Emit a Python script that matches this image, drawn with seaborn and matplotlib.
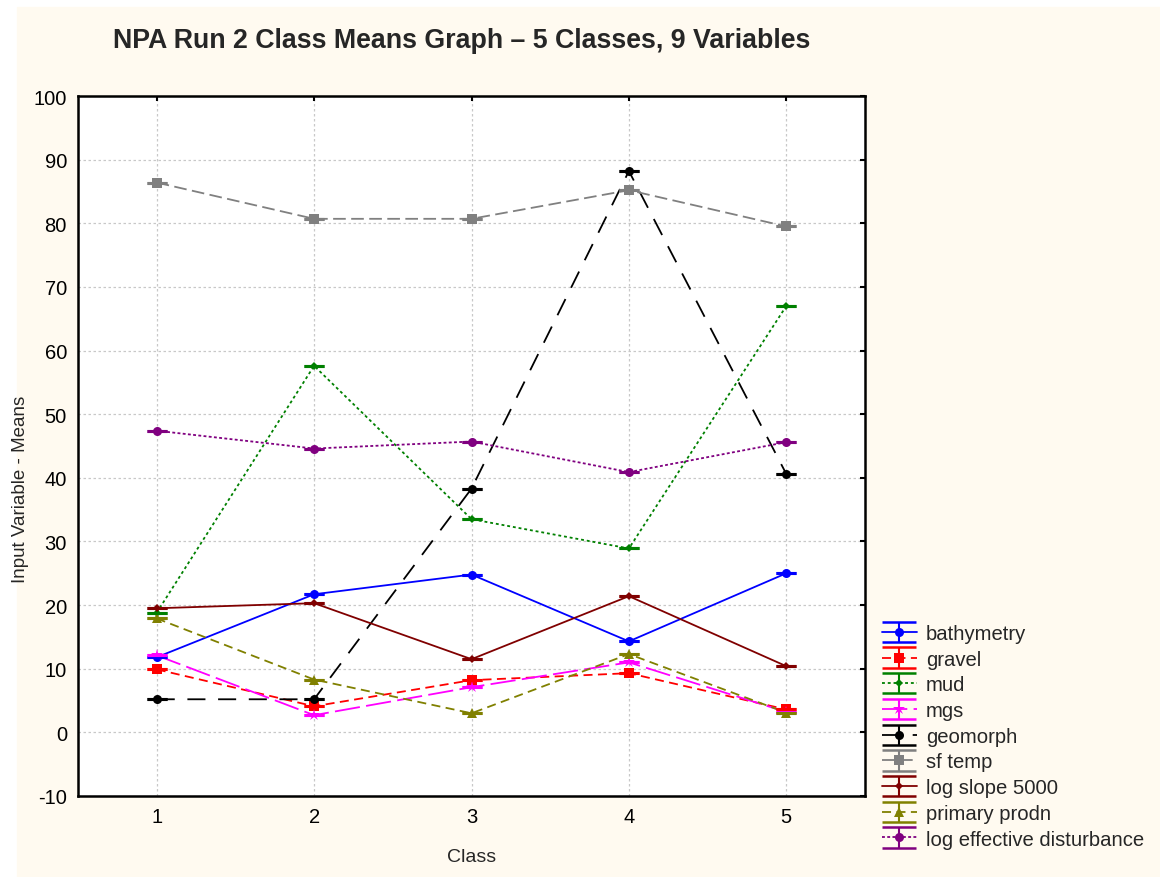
import numpy as np
import pandas as pd
import matplotlib
matplotlib.use("Agg")
import matplotlib.pyplot as plt
import seaborn as sns
from matplotlib.lines import Line2D
from matplotlib.patches import Rectangle
from matplotlib.legend_handler import HandlerTuple

# Datos
classes = [1, 2, 3, 4, 5]
variables = [
    "bathymetry",
    "gravel",
    "mud",
    "mgs",
    "geomorph",
    "sf temp",
    "log slope 5000",
    "primary prodn",
    "log effective disturbance",
]
bathymetry = [11.8, 21.7, 24.8, 14.3, 25.0]
gravel = [9.9, 4.1, 8.2, 9.3, 3.6]
mud = [18.8, 57.6, 33.5, 28.9, 67.0]
mgs = [12.1, 2.7, 7.1, 11.0, 3.2]
geomorph = [5.2, 5.2, 38.3, 88.2, 40.6]
sf_temp = [86.4, 80.7, 80.7, 85.2, 79.5]
log_slope = [19.5, 20.3, 11.5, 21.4, 10.4]
primary_prodn = [17.9, 8.3, 3.0, 12.3, 3.1]
log_disturbance = [47.4, 44.6, 45.7, 40.9, 45.6]

series = [bathymetry, gravel, mud, mgs, geomorph, sf_temp,
          log_slope, primary_prodn, log_disturbance]

colors = ["#0000FF", "#FF0000", "#008000", "#FF00FF", "#000000",
          "#808080", "#800000", "#808000", "#800080"]
markers = ["o", "s", "D", "*", "o", "s", "D", "^", "o"]
msizes = [6.5, 6.5, 4.5, 9, 6.5, 6.5, 4.5, 7.5, 6.5]
dash_styles = ["", (5, 3), (1.6, 1.6), (14, 3.5), (10, 7), (7, 3),
               "", (5, 3), (1.6, 1.3)]

df = pd.DataFrame({
    "Class": np.tile(classes, len(variables)),
    "value": np.concatenate(series),
    "variable": np.repeat(variables, len(classes)),
})

sns.set_style("whitegrid")
plt.rcParams["font.family"] = ["Liberation Sans", "DejaVu Sans"]
plt.rcParams["axes.unicode_minus"] = False

fig = plt.figure(figsize=(11.6, 8.78), dpi=100, facecolor="white")
fig.add_artist(Rectangle((17 / 1160, 0), 1, 1 - 8 / 878,
                         transform=fig.transFigure, color="#FFFAF0",
                         zorder=-5))
ax = fig.add_axes([78 / 1160, 1 - 797 / 878, 787 / 1160, 700 / 878])
ax.set_facecolor("white")

sns.lineplot(
    data=df, x="Class", y="value", hue="variable", style="variable",
    hue_order=variables, style_order=variables,
    palette=dict(zip(variables, colors)),
    markers=dict(zip(variables, markers)),
    dashes=dict(zip(variables, dash_styles)),
    markersize=7, markeredgewidth=0, linewidth=1.3,
    legend=False, ax=ax,
)

# tamaños de marcador por serie
for line, ms in zip(ax.lines, msizes):
    line.set_markersize(ms)

# "barras de error" con remates horizontales en cada punto
for vals, c in zip(series, colors):
    ax.errorbar(classes, vals, yerr=np.zeros(len(vals)), fmt="none",
                ecolor=c, capsize=7.5, capthick=2.2, elinewidth=1.3,
                zorder=3)

ax.set_xlim(0.5, 5.5)
ax.set_ylim(-10, 100)
ax.set_xticks(classes)
ax.set_yticks(np.arange(-10, 101, 10))
ax.grid(True, color="#C8C8C8", linestyle=(0, (2, 2)), linewidth=0.9)
for sp in ax.spines.values():
    sp.set_visible(True)
    sp.set_color("black")
    sp.set_linewidth(1.8)
ax.tick_params(axis="both", direction="in", length=3.5, width=1.5,
               colors="black", labelsize=14.5, top=True, right=True,
               labeltop=False, labelright=False, pad=8)

ax.set_xlabel("Class", fontsize=14, labelpad=16)
ax.set_ylabel("Input Variable - Means", fontsize=13.5)
ax.yaxis.set_label_coords(-0.062, 0.44)

fig.text(462 / 1160, 1 - 41 / 878,
         "NPA Run 2 Class Means Graph \u2013 5 Classes, 9 Variables",
         ha="center", va="center", fontsize=19.3, fontweight="bold")

# leyenda con linea + marcador + remates
handles = []
for v, c, m, ms, d in zip(variables, colors, markers, msizes, dash_styles):
    ln = Line2D([], [], color=c, marker=m, markersize=ms,
                markeredgewidth=0, linewidth=1.3)
    if d != "":
        ln.set_dashes(d)
    eb = ax.errorbar([np.nan], [np.nan], yerr=[0], fmt="none", ecolor=c,
                     capsize=12.5, capthick=1.8, elinewidth=1.5)
    handles.append((ln, eb))

fig.legend(
    handles, variables, loc="upper left",
    bbox_to_anchor=(882 / 1160, 1 - 625 / 878),
    frameon=False, fontsize=14.6, handlelength=1.72, handletextpad=0.45,
    labelspacing=0.33, borderpad=0, borderaxespad=0,
    handler_map={tuple: HandlerTuple(ndivide=1, pad=0)},
)

fig.savefig("out.png", dpi=100, facecolor="white")
